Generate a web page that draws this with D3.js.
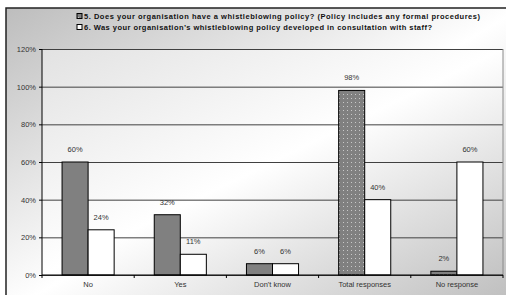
<!DOCTYPE html>
<html>
<head>
<meta charset="utf-8">
<script src="https://cdn.jsdelivr.net/npm/d3@7"></script>
<style>
  html, body { margin: 0; padding: 0; background: #fff; }
  svg { display: block; font-family: 'Liberation Sans', Arial, sans-serif; }
</style>
</head>
<body>
<div class="container"></div>
<script>
/* globals d3 */
(function () {
  const categories = ['No', 'Yes', "Don't know", 'Total responses', 'No response']
  const q5 = [60, 32, 6, 98, 2]
  const q6 = [24, 11, 6, 40, 60]
  const yTicks = [0, 20, 40, 60, 80, 100, 120]
  const legendLabels = [
    '5. Does your organisation have a whistleblowing policy? (Policy includes any formal procedures)',
    '6. Was your organisation\u2019s whistleblowing policy developed in consultation with staff?'
  ]

  const W = 506
  const H = 295
  const margin = { top: 49, right: 3, bottom: 20, left: 42 }
  const width = W - margin.left - margin.right
  const height = H - margin.top - margin.bottom

  const svg = d3.select('.container')
    .append('svg')
    .attr('width', W)
    .attr('height', H)

  const defs = svg.append('defs')

  const outerGrad = defs.append('linearGradient')
    .attr('id', 'outerGrad')
    .attr('x1', 0).attr('y1', 0).attr('x2', 1).attr('y2', 1)
  outerGrad.append('stop').attr('offset', 0).attr('stop-color', '#bdbdbd')
  outerGrad.append('stop').attr('offset', 0.5).attr('stop-color', '#ffffff')
  outerGrad.append('stop').attr('offset', 1).attr('stop-color', '#bababa')

  const plotGrad = defs.append('linearGradient')
    .attr('id', 'plotGrad')
    .attr('x1', 0).attr('y1', 0).attr('x2', 1).attr('y2', 1)
  plotGrad.append('stop').attr('offset', 0).attr('stop-color', '#e2e2e2')
  plotGrad.append('stop').attr('offset', 0.5).attr('stop-color', '#ffffff')
  plotGrad.append('stop').attr('offset', 1).attr('stop-color', '#c4c4c4')

  // dotted fill used for the last two dark bars
  const dots = defs.append('pattern')
    .attr('id', 'dots')
    .attr('patternUnits', 'userSpaceOnUse')
    .attr('width', 4).attr('height', 4)
  dots.append('rect').attr('width', 4).attr('height', 4).attr('fill', '#808080')
  dots.append('rect').attr('x', 1).attr('y', 1).attr('width', 1).attr('height', 1).attr('fill', '#c8c8c8')

  // chart frame (runs off the right and bottom edges)
  svg.append('rect')
    .attr('x', 6).attr('y', 8)
    .attr('width', W + 10).attr('height', H + 10)
    .attr('fill', 'url(#outerGrad)')
    .attr('stroke', '#222')
    .attr('stroke-width', 1.5)

  // legend
  const legend = svg.append('g').attr('transform', 'translate(77,0)')
  const fills = ['url(#dots)', '#ffffff']
  const lengths = [396, 348]
  legendLabels.forEach(function (label, i) {
    const yy = 16 + i * 11
    legend.append('rect')
      .attr('x', 0).attr('y', yy - 2.5)
      .attr('width', 5).attr('height', 5)
      .attr('fill', fills[i])
      .attr('stroke', '#000')
      .attr('stroke-width', 1)
    legend.append('text')
      .attr('x', 7).attr('y', yy + 2.7)
      .attr('font-size', '7.5px')
      .attr('font-weight', 'bold')
      .attr('fill', '#111')
      .attr('textLength', lengths[i])
      .attr('lengthAdjust', 'spacing')
      .text(label)
  })

  const g = svg.append('g')
    .attr('transform', 'translate(' + margin.left + ',' + margin.top + ')')

  const x = d3.scaleBand().domain(categories).range([0, width])
  const xSub = d3.scaleBand().domain(['q5', 'q6'])
    .range([0, x.bandwidth()])
    .paddingOuter(0.77)
  const y = d3.scaleLinear().domain([0, 120]).range([height, 0])

  g.append('rect')
    .attr('width', width).attr('height', height)
    .attr('fill', 'url(#plotGrad)')

  // gridlines
  g.append('g')
    .call(d3.axisLeft(y).tickValues(yTicks).tickSize(-width).tickFormat(''))
    .call(function (s) { s.select('.domain').remove() })
    .selectAll('line')
    .attr('stroke', '#404040')

  // right border of plot area
  g.append('line')
    .attr('x1', width).attr('x2', width)
    .attr('y1', 0).attr('y2', height)
    .attr('stroke', '#8a8a8a')

  const series = [
    { key: 'q5', values: q5 },
    { key: 'q6', values: q6 }
  ]

  series.forEach(function (s) {
    const grp = g.append('g')
    grp.selectAll('rect')
      .data(s.values)
      .enter().append('rect')
      .attr('x', function (d, i) { return x(categories[i]) + xSub(s.key) })
      .attr('y', function (d) { return y(d) })
      .attr('width', xSub.bandwidth())
      .attr('height', function (d) { return height - y(d) })
      .attr('fill', function (d, i) {
        if (s.key === 'q6') return '#ffffff'
        return i >= 3 ? 'url(#dots)' : '#808080'
      })
      .attr('stroke', '#000')
      .attr('stroke-width', 1)

    grp.selectAll('text')
      .data(s.values)
      .enter().append('text')
      .attr('x', function (d, i) { return x(categories[i]) + xSub(s.key) + xSub.bandwidth() / 2 })
      .attr('y', function (d) { return y(d) - 10 })
      .attr('text-anchor', 'middle')
      .attr('font-size', '7.5px')
      .attr('fill', '#333')
      .text(function (d) { return d + '%' })
  })

  // y axis
  const yAxis = g.append('g')
    .call(d3.axisLeft(y).tickValues(yTicks).tickSize(3).tickPadding(3)
      .tickFormat(function (d) { return d + '%' }))
  yAxis.select('.domain').attr('stroke', '#000').attr('d', 'M0,0V' + height)
  yAxis.selectAll('line').attr('stroke', '#000')
  yAxis.selectAll('text').attr('font-size', '7.5px').attr('fill', '#333')

  // x axis: labels centred, tick marks on category boundaries
  const xAxis = g.append('g')
    .attr('transform', 'translate(0,' + height + ')')
    .call(d3.axisBottom(x).tickSize(0).tickPadding(7))
  xAxis.select('.domain').attr('stroke', '#000').attr('d', 'M0,0H' + width)
  xAxis.selectAll('text').attr('font-size', '7.5px').attr('fill', '#333')
  xAxis.selectAll('.bound')
    .data(categories.map(function (c) { return x(c) }).concat([width]))
    .enter().append('line')
    .attr('class', 'bound')
    .attr('x1', function (d) { return d }).attr('x2', function (d) { return d })
    .attr('y1', 0).attr('y2', 3)
    .attr('stroke', '#000')
}())
</script>
</body>
</html>
